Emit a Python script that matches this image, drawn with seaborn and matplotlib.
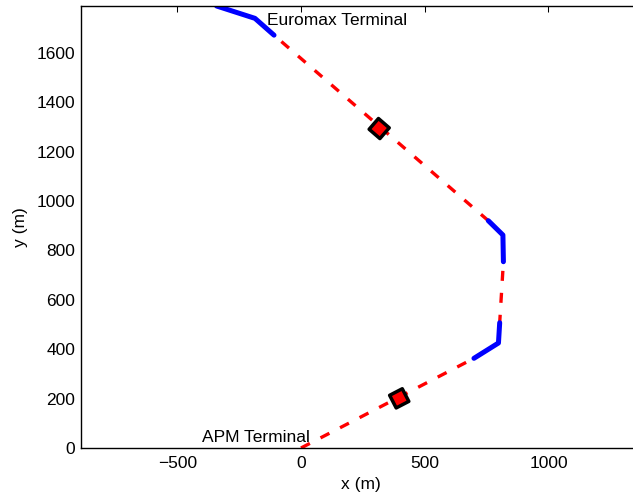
import numpy as np
import pandas as pd
import matplotlib
matplotlib.use("Agg")
import matplotlib.pyplot as plt
import seaborn as sns

# ---- data (metres) ----
route_x = [0, 699, 798, 803, 818, 816, 757, -109, -186, -341]
route_y = [0, 363, 425, 507, 754, 862, 920, 1671, 1739, 1789]

turn_x = [699, 798, 803, 818, 816, 757, -109, -186, -341]
turn_y = [363, 425, 507, 754, 862, 920, 1671, 1739, 1789]
turn_seg = ["a", "a", "a", "b", "b", "b", "c", "c", "c"]

vessel_x = [397, 316]
vessel_y = [201, 1293]
vessel_id = ["v1", "v2"]
vessel_heading = [27.4, 139.1]  # degrees

terminal_names = ["APM Terminal", "Euromax Terminal"]
terminal_x = [-401, -137]
terminal_y = [25, 1712]

x_ticks = [-500, 0, 500, 1000]
y_ticks = [0, 200, 400, 600, 800, 1000, 1200, 1400, 1600]

# ---- style ----
sns.set_theme(style="white")
plt.rcParams["font.family"] = ["Liberation Sans", "DejaVu Sans"]
plt.rcParams.update({
    "font.size": 12.5,
    "axes.labelsize": 12.5,
    "xtick.labelsize": 12.5,
    "ytick.labelsize": 12.5,
    "axes.edgecolor": "black",
    "axes.linewidth": 1.0,
    "text.color": "black",
    "axes.labelcolor": "black",
    "xtick.color": "black",
    "ytick.color": "black",
})

fig = plt.figure(figsize=(6.33, 4.95), dpi=100)
ax = fig.add_axes([81 / 633, 47 / 495, 559 / 633, 442 / 495])

route = pd.DataFrame({"x": route_x, "y": route_y})
sns.lineplot(data=route, x="x", y="y", sort=False, estimator=None,
             color="#ff0000", linewidth=2.4, linestyle=(0, (3, 3.6)),
             ax=ax, legend=False)

turns = pd.DataFrame({"x": turn_x, "y": turn_y, "seg": turn_seg})
sns.lineplot(data=turns, x="x", y="y", units="seg", sort=False, estimator=None,
             color="#0000ff", linewidth=3.6, solid_capstyle="round",
             solid_joinstyle="round", ax=ax, legend=False)

vessels = pd.DataFrame({"x": vessel_x, "y": vessel_y, "id": vessel_id})
marker_map = {vid: (4, 0, h + 45) for vid, h in zip(vessel_id, vessel_heading)}
sns.scatterplot(data=vessels, x="x", y="y", style="id", markers=marker_map,
                s=210, color="#ff0000", edgecolor="black", linewidth=2.5,
                ax=ax, legend=False, zorder=5)

for name, tx, ty in zip(terminal_names, terminal_x, terminal_y):
    ax.text(tx, ty, name, ha="left", va="baseline", fontsize=12.5)

ax.set_xlim(-889, 1370)
ax.set_ylim(0, 1789)
ax.set_xticks(x_ticks)
ax.set_yticks(y_ticks)
ax.set_xlabel("x (m)", labelpad=4)
ax.set_ylabel("y (m)", labelpad=6)
ax.spines["right"].set_visible(False)
ax.spines["top"].set_visible(True)
ax.tick_params(direction="in", top=True, right=False, length=4, width=0.75)
ax.tick_params(axis="x", pad=6)
ax.tick_params(axis="y", pad=4)

fig.savefig("out.png", dpi=100)
